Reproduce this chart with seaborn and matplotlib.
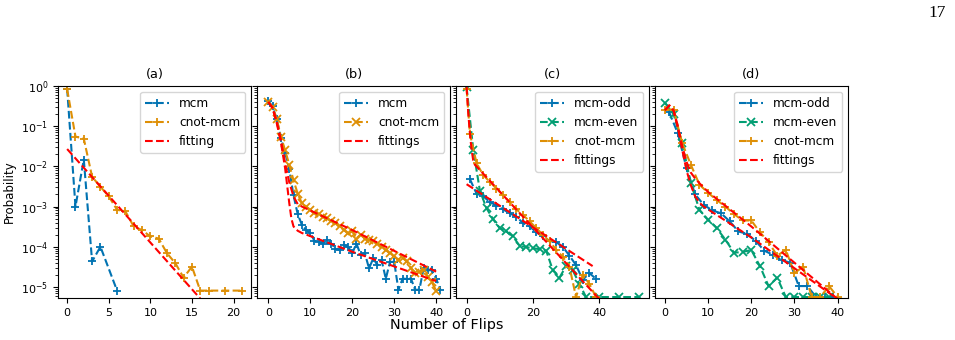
import matplotlib
matplotlib.use('Agg')
import matplotlib.pyplot as plt
import seaborn as sns
from matplotlib.ticker import MultipleLocator

# colours (seaborn colorblind)
pal = sns.color_palette('colorblind')
c_blue, c_orange, c_green = pal[0], pal[1], pal[2]

# ---- (a) ----
a_x_mcm = [0, 1, 2, 3, 4, 6]
a_p_mcm = [0.85, 1.0e-3, 0.0148, 4.3e-5, 1.0e-4, 8.1e-6]
a_x_cnot = [0, 1, 2, 3, 4, 5, 6, 7, 8, 9, 10, 11, 12, 13, 14, 15, 16, 17, 19, 21]
a_p_cnot = [0.83, 0.055, 0.049, 0.0055, 0.0031, 0.0018, 8.3e-4, 7.6e-4, 3.2e-4, 2.6e-4,
            1.8e-4, 1.6e-4, 6.9e-5, 3.9e-5, 1.7e-5, 3.2e-5, 8.1e-6, 8.1e-6, 8.1e-6, 8.1e-6]
a_fit_x = [0, 17]
a_fit_p = [0.027, 3.0e-6]

# ---- (b) ----
b_x = list(range(42))
b_p_mcm = [0.42, 0.31, 0.15, 0.05, 0.022, 0.0085, 0.0019, 6.5e-4, 3.5e-4, 2.6e-4,
           2.2e-4, 1.4e-4, 1.3e-4, 1.2e-4, 1.45e-4, 1.2e-4, 9e-5, 8.3e-5, 1.1e-4, 1.0e-4,
           6.9e-5, 1.2e-4, 6.3e-5, 6.9e-5, 2.9e-5, 5.1e-5, 3.5e-5, 4.6e-5, 1.6e-5, 4.2e-5,
           4.2e-5, 8.5e-6, 1.6e-5, 1.6e-5, 1.6e-5, 8.5e-6, 8.5e-6, 2.9e-5, 2.6e-5, 2.6e-5,
           1.6e-5, 8.5e-6]
b_x_cnot = list(range(41))
b_p_cnot = [0.40, 0.30, 0.15, 0.055, 0.025, 0.011, 0.0045, 0.0021, 0.0012, 0.0010,
            8.3e-4, 6.8e-4, 6.5e-4, 5.6e-4, 5.1e-4, 4.3e-4, 3.9e-4, 3.2e-4, 2.6e-4, 2.2e-4,
            2.4e-4, 1.6e-4, 2.0e-4, 1.6e-4, 1.5e-4, 1.35e-4, 1.2e-4, 1.0e-4, 8.3e-5, 6.9e-5,
            5.8e-5, 4.8e-5, 5.3e-5, 4.3e-5, 2.9e-5, 2.2e-5, 2.4e-5, 2.7e-5, 1.8e-5, 1.3e-5,
            8e-6]
b_fit1_x = [0, 1, 2, 3, 4, 5, 5.5, 6, 7, 8, 20, 40]
b_fit1_p = [0.40, 0.28, 0.12, 0.04, 9e-3, 1.2e-3, 5e-4, 3.2e-4, 2.5e-4, 2.2e-4, 7.5e-5, 1.4e-5]
b_fit2_x = [0, 1, 2, 3, 4, 5, 6, 7, 8, 10, 20, 40]
b_fit2_p = [0.40, 0.29, 0.13, 0.045, 0.012, 4e-3, 1.8e-3, 1.15e-3, 1.0e-3, 8e-4, 2.6e-4, 2.4e-5]

# ---- (c) ----
c_x_odd = list(range(1, 40, 2))
c_p_odd = [4.8e-3, 2.1e-3, 1.8e-3, 1.3e-3, 1.05e-3, 8.5e-4, 6.8e-4, 5.6e-4, 3.9e-4, 3.2e-4,
           2.3e-4, 1.8e-4, 1.4e-4, 1.3e-4, 1.0e-4, 6.0e-5, 3.5e-5, 1.5e-5, 2.2e-5, 1.6e-5]
c_x_even = list(range(0, 37, 2)) + [40, 46, 52]
c_p_even = [0.93, 0.026, 2.5e-3, 9.1e-4, 4.8e-4, 2.9e-4, 2.4e-4, 1.8e-4, 1.05e-4, 9.8e-5,
            9.2e-5, 8.7e-5, 8.0e-5, 2.6e-5, 1.7e-5, 3.3e-5, 2.6e-5, 1.2e-5, 5.6e-6,
            5.6e-6, 5.6e-6, 5.6e-6]
c_x_cnot = [0, 1] + list(range(3, 40, 2))
c_p_cnot = [0.85, 0.065, 0.012, 6.1e-3, 4.1e-3, 2.8e-3, 1.9e-3, 1.3e-3, 8.5e-4, 6.2e-4,
            4.3e-4, 2.9e-4, 2.0e-4, 1.35e-4, 8.5e-5, 5.6e-5, 3.2e-5, 5.6e-6, 2.0e-5, 1.2e-5,
            5.6e-6]
c_fit1_x = [0, 38]
c_fit1_p = [3.6e-3, 3.3e-5]
c_fit2_x = [0, 0.5, 1, 1.5, 2, 2.5, 40]
c_fit2_p = [0.95, 0.21, 0.066, 0.026, 0.014, 0.011, 5.0e-6]

# ---- (d) ----
d_x_odd = list(range(1, 40, 2))
d_p_odd = [0.22, 0.066, 9e-3, 2.0e-3, 1.1e-3, 8e-4, 6.8e-4, 4.3e-4, 2.4e-4, 2.1e-4,
           1.4e-4, 8e-5, 6.3e-5, 4.7e-5, 4.0e-5, 1.05e-5, 1.05e-5, 5.6e-6, 5.6e-6, 5.6e-6]
d_x_even = list(range(0, 39, 2))
d_p_even = [0.38, 0.2, 0.038, 3.8e-3, 8.3e-4, 4.7e-4, 2.9e-4, 1.5e-4, 7.1e-5, 7.4e-5,
            8.3e-5, 3.3e-5, 1.05e-5, 1.7e-5, 5.6e-6, 5.6e-6, 5.6e-6, 5.6e-6, 5.6e-6, 5.6e-6]
d_x_cnot = list(range(0, 41, 2))
d_p_cnot = [0.26, 0.26, 0.038, 0.011, 3.5e-3, 2.2e-3, 1.45e-3, 1.0e-3, 6.5e-4, 4.5e-4,
            4.5e-4, 2.3e-4, 1.3e-4, 6e-5, 8.3e-5, 2.2e-5, 3.2e-5, 5.6e-6, 5.6e-6, 1.05e-5,
            5.6e-6]
d_fit1_x = [0, 1, 2, 3, 4, 5, 6, 7, 8, 10, 20, 40]
d_fit1_p = [0.25, 0.33, 0.25, 0.1, 0.032, 0.013, 7e-3, 5e-3, 3.8e-3, 2.3e-3, 3.2e-4, 5e-6]
d_fit2_x = [0, 1, 2, 3, 4, 5, 6, 7, 8, 9, 20, 40]
d_fit2_p = [0.25, 0.33, 0.24, 0.09, 0.026, 8e-3, 3.4e-3, 1.8e-3, 1.25e-3, 1.0e-3, 1.7e-4, 5e-6]


def series(ax, x, y, marker, color, label):
    sns.lineplot(x=x, y=y, ax=ax, marker=marker, linestyle='--', color=color,
                 markeredgecolor=color, markersize=6, mew=1.3, lw=1.5,
                 estimator=None, errorbar=None, label=label)


def fit(ax, x, y, label=None):
    sns.lineplot(x=x, y=y, ax=ax, linestyle='--', color='red', lw=1.5,
                 estimator=None, errorbar=None, label=label)


fig, axes = plt.subplots(1, 4, figsize=(9.55, 3.4), dpi=100, sharey=True)
fig.subplots_adjust(left=58/955, right=848/955, bottom=1-298/340, top=1-86/340, wspace=0.031)
ax_a, ax_b, ax_c, ax_d = axes

series(ax_a, a_x_mcm, a_p_mcm, '+', c_blue, 'mcm')
series(ax_a, a_x_cnot, a_p_cnot, '+', c_orange, 'cnot-mcm')
fit(ax_a, a_fit_x, a_fit_p, 'fitting')

series(ax_b, b_x, b_p_mcm, '+', c_blue, 'mcm')
series(ax_b, b_x_cnot, b_p_cnot, 'x', c_orange, 'cnot-mcm')
fit(ax_b, b_fit1_x, b_fit1_p, 'fittings')
fit(ax_b, b_fit2_x, b_fit2_p)

series(ax_c, c_x_odd, c_p_odd, '+', c_blue, 'mcm-odd')
series(ax_c, c_x_even, c_p_even, 'x', c_green, 'mcm-even')
series(ax_c, c_x_cnot, c_p_cnot, '+', c_orange, 'cnot-mcm')
fit(ax_c, c_fit1_x, c_fit1_p, 'fittings')
fit(ax_c, c_fit2_x, c_fit2_p)

series(ax_d, d_x_odd, d_p_odd, '+', c_blue, 'mcm-odd')
series(ax_d, d_x_even, d_p_even, 'x', c_green, 'mcm-even')
series(ax_d, d_x_cnot, d_p_cnot, '+', c_orange, 'cnot-mcm')
fit(ax_d, d_fit1_x, d_fit1_p, 'fittings')
fit(ax_d, d_fit2_x, d_fit2_p)

xlims = [(-1.1, 22.1), (-2.7, 43.3), (-3.2, 55.0), (-2.3, 42.4)]
steps = [5, 10, 20, 10]
titles = ['(a)', '(b)', '(c)', '(d)']
for ax, xl, st, t in zip(axes, xlims, steps, titles):
    ax.set_yscale('log')
    ax.set_ylim(5.3e-6, 1)
    ax.set_xlim(*xl)
    ax.xaxis.set_major_locator(MultipleLocator(st))
    ax.set_xlabel('')
    ax.set_title(t, fontsize=9.3)
    ax.tick_params(labelsize=8)
    ax.legend(loc='upper right', fontsize=8.7)

ax_a.set_ylabel('Probability', fontsize=8.5)
fig.text(0.468, 0.044, 'Number of Flips', ha='center', va='center', fontsize=10.4)
fig.text(937/955, 1-13/340, '17', ha='center', va='center', fontsize=12.5,
         family='Liberation Serif')

fig.savefig('out.png', dpi=100)
